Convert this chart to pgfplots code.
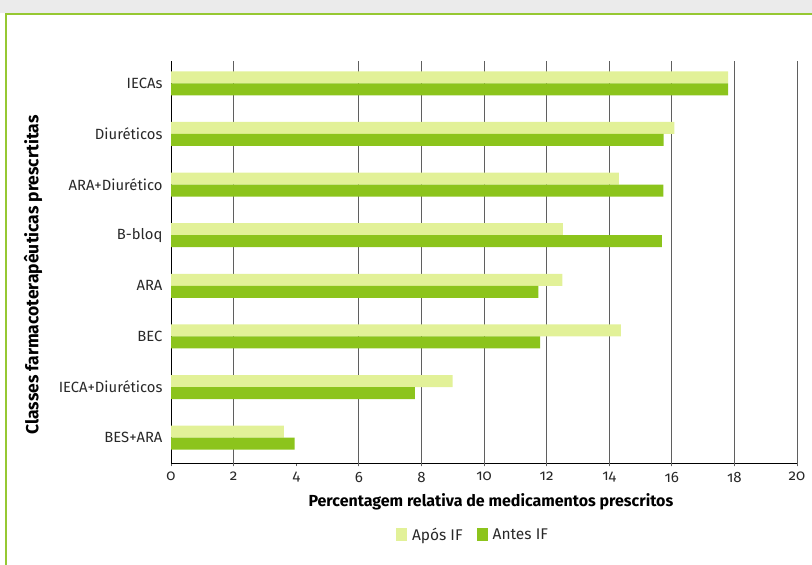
\documentclass[border=0pt]{standalone}
\usepackage{fontspec}
\setmainfont{Fira Sans}[Numbers=OldStyle]
\usepackage{pgfplots}
\pgfplotsset{compat=1.18}
\definecolor{apos}{RGB}{226,241,152}
\definecolor{antes}{RGB}{140,196,28}
\definecolor{framegreen}{RGB}{150,200,50}
\definecolor{gridgray}{RGB}{95,95,95}
\definecolor{labelgray}{RGB}{40,40,40}

\begin{document}
\begin{tikzpicture}
\useasboundingbox (0pt,0pt) rectangle (812pt,565pt);
% page strip and green frame
\fill[black!8] (0pt,565pt) rectangle (812pt,552pt);
\draw[framegreen, line width=2pt] (6pt,0pt) -- (6pt,551pt) -- (812pt,551pt);
\begin{axis}[
  at={(171pt,101.5pt)}, anchor=south west, scale only axis,
  width=626pt, height=402.5pt,
  xmin=0, xmax=20, ymin=-0.51, ymax=7.44,
  xbar, bar width=12pt,
  axis x line*=bottom, axis y line*=left,
  axis line style={black, line width=0.9pt},
  xtick={0,2,...,20},
  xtick pos=bottom, tick align=outside, major tick length=3pt,
  xtick style={gridgray, line width=0.8pt},
  extra x ticks={2,6,8,10,12,14,16,18,20},
  extra x tick labels={},
  extra x tick style={grid=major, major grid style={gridgray, line width=0.8pt}},
  ytick={0,...,7},
  yticklabels={BES+ARA, IECA+Diuréticos, BEC, ARA, B-bloq, ARA+Diurético, Diuréticos, IECAs},
  ytick style={draw=none},
  /pgf/number format/assume math mode=true,
  xticklabel style={font=\fontsize{15}{17}\selectfont, text=labelgray, yshift=-2pt},
  yticklabel style={font=\fontsize{14.8}{17}\selectfont, text=labelgray, anchor=east, xshift=-2pt},
  xlabel={Percentagem relativa de medicamentos prescritos},
  xlabel style={font=\bfseries\fontsize{16}{18}\selectfont, at={(axis description cs:0.511,-0.095)}, anchor=center},
  ylabel={Classes farmacoterapêuticas prescrtitas},
  ylabel style={font=\bfseries\fontsize{17.5}{19}\selectfont, at={(axis description cs:-0.2204,0.468)}, anchor=center, rotate=0},
  legend columns=2,
  legend style={at={(axis description cs:0.4824,-0.1776)}, anchor=center, draw=none, fill=none,
    font=\fontsize{15.5}{17}\selectfont, text=labelgray,
    /tikz/every odd column/.append style={column sep=3pt},
    /tikz/every even column/.append style={column sep=12pt}},
  legend image code/.code={\fill[#1] (0pt,-6.5pt) rectangle (11pt,6.5pt);},
]
\addplot[fill=apos, draw=none, bar shift=6pt] coordinates {
  (3.61,0) (9.00,1) (14.37,2) (12.50,3) (12.52,4) (14.31,5) (16.08,6) (17.80,7)};
\addlegendentry{Após IF}
\addplot[fill=antes, draw=none, bar shift=-6pt] coordinates {
  (3.95,0) (7.79,1) (11.79,2) (11.74,3) (15.68,4) (15.73,5) (15.74,6) (17.80,7)};
\addlegendentry{Antes IF}
\end{axis}
\end{tikzpicture}
\end{document}
